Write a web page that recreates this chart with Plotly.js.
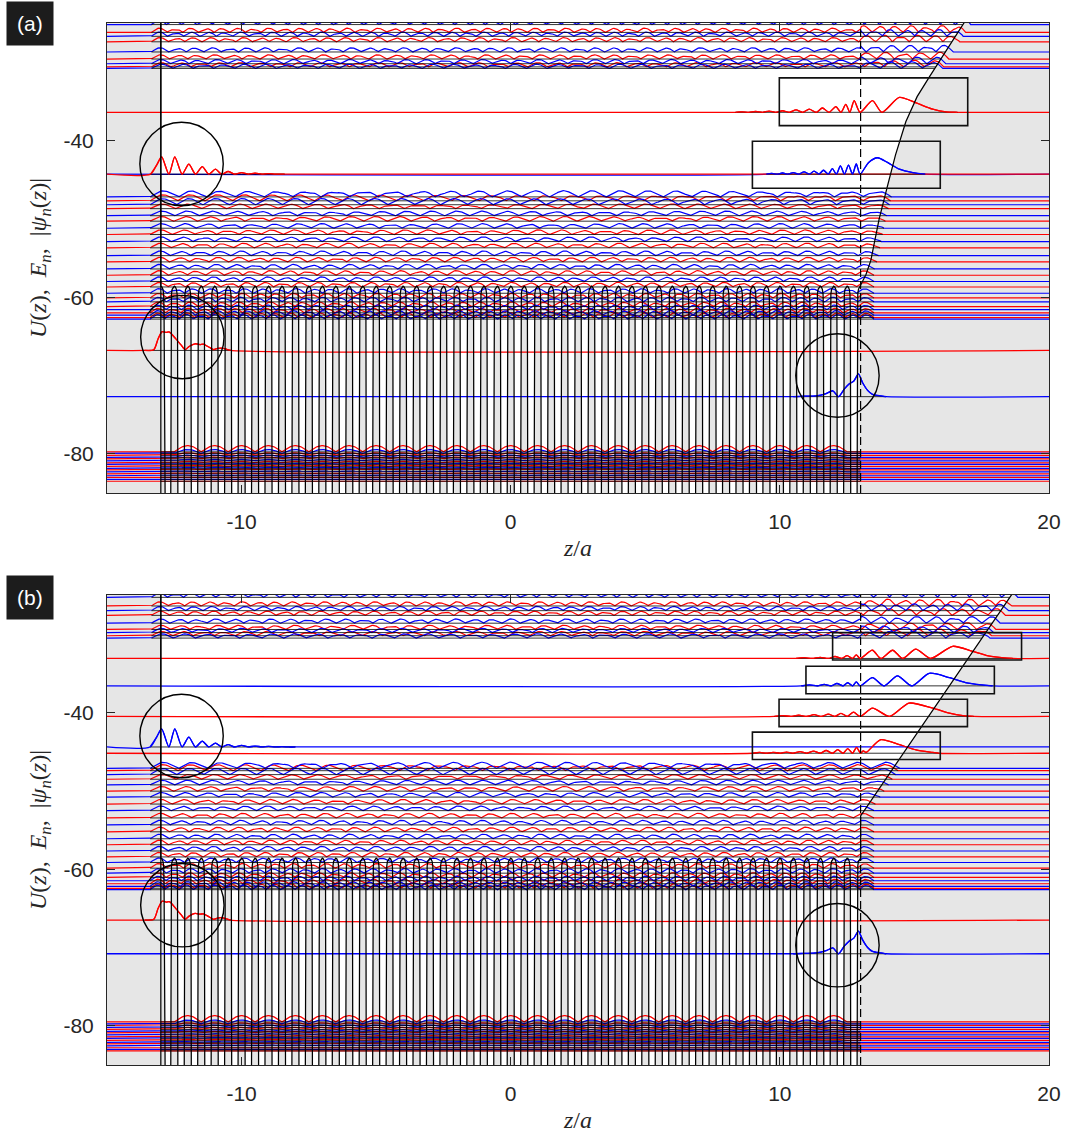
<!DOCTYPE html>
<html><head><meta charset="utf-8">
<script src="https://cdn.plot.ly/plotly-3.0.1.min.js"></script>
<style>html,body{margin:0;padding:0;background:#fff}#chart{width:1070px;height:1141px}</style>
</head><body><div id="chart"></div>
<script>
// ---------- axes / geometry of the model ----------
const Z_MIN = -15, Z_MAX = 20, E_MIN = -85, E_MAX = -25;
const xTickVals = [-10, 0, 10, 20];
const xTickText = ['-10', '0', '10', '20'];
const yTickVals = [-80, -60, -40];
const yTickText = ['-80', '-60', '-40'];
const crystalLeft = -13, crystalRight = 13, latticeStep = 0.5, vacuumU = -20;

// one half period of the lattice potential (from barrier top to well centre)
const cellHalfZ = [0, 0.04, 0.08, 0.105, 0.12, 0.135, 0.25];
const cellHalfU = [-58.6, -58.7, -59.0, -59.6, -62.0, -90.0, -140.0];

// surface potential beyond the right edge
const surfA_z = [13.0, 13.2, 13.38, 13.69, 14.0, 14.3, 14.68, 15.1, 15.55, 16.2, 16.79, 17.4, 20];
const surfA_U = [-58.6, -57.1, -55.3, -50.0, -45.8, -41.8, -37.6, -34.4, -31.9, -28.4, -25.2, -22.0, -20];
const surfB_z = [13.0, 13.0, 18.6, 19.2, 20];
const surfB_U = [-58.6, -53.2, -25.0, -22.0, -20];

// hump template used for |psi| shapes
const tplHalfWave = [0, 0.31, 0.59, 0.81, 0.95, 1, 0.95, 0.81, 0.59, 0.31, 0];

// ---------- panel (a) levels ----------
const topBandA_E = [-25.2, -26.2, -26.7, -27.4, -28.7, -29.6, -30.2, -30.6, -30.8];
const topBandA_col = ['b','r','b','r','b','r','b','r','b'];
const topBandA_m = [54, 52, 50, 48, 46, 44, 42, 40, 38];
const midBandA_E = [-47.2, -47.7, -48.2, -48.7, -49.6, -50.3, -51.2, -52.0, -52.9, -53.7, -54.7, -55.5, -56.4, -57.2, -58.0, -58.7, -59.5, -60.1, -60.6, -61.2, -61.6, -62.0, -62.3, -62.6, -62.8];
const midBandA_col = ['b','r','b','r','b','r','b','r','b','r','b','r','b','r','b','r','b','r','b','r','b','r','b','r','b'];
const midBandA_m = [26, 27, 28, 29, 30, 31, 32, 33, 34, 35, 36, 37, 38, 39, 40, 41, 42, 43, 44, 45, 46, 47, 48, 49, 50];
const lowBandA_E = [-79.75, -79.95, -80.2, -80.45, -80.65, -80.9, -81.15, -81.35, -81.6, -81.85, -82.05, -82.3, -82.55, -82.8, -83.0, -83.25, -83.5];
const lowBandA_col = ['r','b','r','b','r','b','r','b','r','b','r','b','r','b','r','b','r'];
const lowBandA_amp = [0.8, 0.5, 0.35, 0.3, 0.25, 0.2, 0.2, 0.15, 0.15, 0.12, 0.12, 0.1, 0.1, 0.1, 0.08, 0.08, 0.08];

// isolated (surface / defect) states of panel (a)
const isoA_E = [-36.4, -44.3, -44.3, -66.8, -72.7];
const isoA_col = ['r', 'b', 'r', 'r', 'b'];
const isoA1_z = [8.35, 8.6, 8.85, 9.1, 9.35, 9.6, 9.85, 10.1, 10.35, 10.6, 10.85, 11.09, 11.35, 11.58, 11.83, 12.08, 12.27, 12.45, 12.6, 12.76, 12.98, 13.44, 13.79, 14.44, 15.06, 15.68, 16.17, 16.6];
const isoA1_a = [0, 0.06, 0, 0.1, 0, 0.15, 0, 0.2, 0, 0.3, 0, 0.4, 0, 0.55, 0, 0.72, 0, 1.0, 0, 1.5, 0, 1.5, 0, 1.9, 1.2, 0.4, 0.05, 0];
const isoA2_z = [9.5, 9.7, 9.9, 10.1, 10.3, 10.5, 10.7, 10.9, 11.1, 11.27, 11.45, 11.62, 11.8, 11.95, 12.1, 12.25, 12.4, 12.55, 12.7, 12.84, 12.98, 13.3, 13.63, 14.0, 14.44, 14.94, 15.4];
const isoA2_a = [0, 0.1, 0, 0.15, 0, 0.2, 0, 0.3, 0, 0.4, 0, 0.5, 0, 0.7, 0, 1.05, 0, 1.15, 0, 1.3, 0, 1.5, 2.1, 1.5, 0.64, 0.2, 0];
const isoA3_z = [-13.38, -13.15, -12.97, -12.7, -12.48, -12.21, -11.96, -11.71, -11.46, -11.22, -10.97, -10.74, -10.5, -10.25, -10.0, -9.75, -9.5, -9.25, -9.0, -8.75, -8.4];
const isoA3_a = [0, 1.2, 2.2, 0, 2.2, 0, 1.28, 0, 0.97, 0, 0.64, 0, 0.34, 0, 0.2, 0, 0.12, 0, 0.08, 0, 0];
const isoA4_z = [-13.6, -13.26, -13.1, -12.95, -12.8, -12.68, -12.45, -12.25, -12.1, -11.95, -11.73, -11.55, -11.42, -11.2, -11.04, -10.9, -10.75, -10.55, -10.4];
const isoA4_a = [0, 0.1, 1.5, 2.4, 2.3, 2.35, 1.5, 0.7, 0.1, 0.5, 0.85, 0.75, 0.8, 0.4, 0.1, 0.25, 0.3, 0.15, 0];
const isoA5_z = [10.5, 10.9, 11.35, 11.72, 11.97, 12.18, 12.4, 12.57, 12.75, 12.92, 13.07, 13.26, 13.44, 13.75, 13.95];
const isoA5_a = [0, 0.05, 0.1, 0.4, 0.75, 0.0, 1.0, 1.6, 2.0, 2.9, 1.8, 0.8, 0.3, 0.1, 0];

// highlight frames of panel (a)
const boxA_x0 = [9.98, 8.98], boxA_x1 = [16.98, 15.96];
const boxA_y0 = [-38.1, -46.1], boxA_y1 = [-32.0, -40.1];
const circA_z = [-12.23, -12.2, 12.14], circA_E = [-43.0, -65.1, -70.0];

// ---------- panel (b) levels ----------
const topBandB_E = [-25.3, -26.4, -27.0, -27.6, -28.6, -29.4, -29.8, -30.2, -30.5];
const topBandB_col = ['b','r','b','r','b','r','b','r','b'];
const topBandB_m = [54, 52, 50, 48, 46, 44, 42, 40, 38];
const midBandB_E = [-47.13, -47.43, -47.93, -48.52, -49.24, -50.04, -50.8, -51.69, -52.53, -53.46, -54.35, -55.23, -56.12, -56.88, -57.68, -58.44, -59.15, -59.87, -60.51, -61.05, -61.48, -61.86, -62.19, -62.44, -62.62];
const midBandB_col = ['b','r','b','r','b','r','b','r','b','r','b','r','b','r','b','r','b','r','b','r','b','r','b','r','b'];
const midBandB_m = [26, 27, 28, 29, 30, 31, 32, 33, 34, 35, 36, 37, 38, 39, 40, 41, 42, 43, 44, 45, 46, 47, 48, 49, 50];
const lowBandB_E = [-79.5, -79.75, -79.95, -80.2, -80.45, -80.7, -80.9, -81.15, -81.4, -81.6, -81.85, -82.1, -82.3, -82.55, -82.8, -83.0, -83.2];
const lowBandB_col = ['r','b','r','b','r','b','r','b','r','b','r','b','r','b','r','b','r'];
const lowBandB_amp = [0.8, 0.5, 0.35, 0.3, 0.25, 0.2, 0.2, 0.15, 0.15, 0.12, 0.12, 0.1, 0.1, 0.1, 0.08, 0.08, 0.08];

const isoB_E = [-33.1, -36.6, -40.5, -45.2, -44.4, -66.5, -70.8];
const isoB_col = ['r', 'b', 'r', 'r', 'b', 'r', 'b'];
const isoB1_z = [10.6, 10.9, 11.2, 11.5, 11.8, 12.05, 12.3, 12.5, 12.7, 12.84, 12.98, 13.44, 13.75, 14.19, 14.56, 15.05, 15.6, 16.42, 17.16, 17.66, 18.16, 18.65];
const isoB1_a = [0, 0.1, 0, 0.15, 0, 0.25, 0, 0.35, 0, 0.45, 0, 1.05, 0, 1.05, 0, 1.2, 0, 1.55, 0.9, 0.4, 0.15, 0];
const isoB2_z = [10.8, 11.1, 11.4, 11.65, 11.9, 12.12, 12.35, 12.52, 12.7, 12.84, 12.98, 13.44, 13.87, 14.37, 14.9, 15.55, 16.3, 16.9, 17.5, 17.9];
const isoB2_a = [0, 0.12, 0, 0.2, 0, 0.3, 0, 0.4, 0, 0.5, 0, 1.05, 0, 1.27, 0, 1.6, 1.05, 0.42, 0.12, 0];
const isoB3_z = [9.8, 10.1, 10.4, 10.7, 11.0, 11.27, 11.55, 11.8, 12.05, 12.27, 12.5, 12.74, 12.98, 13.44, 14.08, 14.8, 15.68, 16.3, 16.8, 17.2];
const isoB3_a = [0, 0.1, 0, 0.15, 0, 0.22, 0, 0.3, 0, 0.4, 0, 0.55, 0, 1.05, 0, 1.7, 1.05, 0.42, 0.1, 0];
const isoB4_z = [9.0, 9.25, 9.5, 9.75, 10.0, 10.25, 10.5, 10.75, 11.0, 11.25, 11.5, 11.72, 11.95, 12.15, 12.35, 12.52, 12.7, 12.85, 13.0, 13.1, 13.2, 13.75, 14.44, 15.06, 15.68, 15.9];
const isoB4_a = [0, 0.1, 0, 0.12, 0, 0.15, 0, 0.2, 0, 0.28, 0, 0.35, 0, 0.45, 0, 0.6, 0, 0.76, 0, 0.3, 0.1, 1.73, 1.1, 0.42, 0.1, 0];
const isoB5_z = [-13.4, -13.15, -12.97, -12.7, -12.48, -12.21, -11.96, -11.71, -11.46, -11.22, -10.97, -10.74, -10.5, -10.25, -10.0, -9.75, -9.5, -9.25, -9.0, -8.75, -8.5, -8.25, -8.0];
const isoB5_a = [0, 1.3, 2.3, 0, 2.3, 0, 1.25, 0, 0.75, 0, 0.5, 0, 0.3, 0, 0.2, 0, 0.12, 0, 0.08, 0, 0.05, 0, 0];
const isoB6_z = [-13.6, -13.26, -13.1, -12.95, -12.8, -12.68, -12.45, -12.25, -12.1, -11.95, -11.73, -11.55, -11.42, -11.2, -11.04, -10.9, -10.75, -10.55, -10.4];
const isoB6_a = [0, 0.1, 1.5, 2.4, 2.3, 2.35, 1.5, 0.7, 0.1, 0.5, 0.85, 0.75, 0.8, 0.4, 0.1, 0.25, 0.3, 0.15, 0];
const isoB7_z = [10.5, 10.9, 11.35, 11.72, 11.97, 12.18, 12.4, 12.57, 12.75, 12.92, 13.07, 13.26, 13.44, 13.75, 13.95];
const isoB7_a = [0, 0.05, 0.1, 0.4, 0.75, 0.0, 1.0, 1.6, 2.0, 2.9, 1.8, 0.8, 0.3, 0.1, 0];

const boxB_x0 = [11.96, 10.97, 9.97, 8.98], boxB_x1 = [18.98, 17.97, 16.97, 15.96];
const boxB_y0 = [-33.3, -37.6, -41.8, -46.0], boxB_y1 = [-29.8, -34.1, -38.3, -42.5];
const circB_z = [-12.23, -12.2, 12.14], circB_E = [-43.0, -64.6, -69.7];

// ---------- styles ----------
const COL = {r: '#ff0000', b: '#0000ff'};
const GRAY = '#e6e6e6';
const AXC = '#262626';
const circleRadiusPx = 41.7;
const M = {l: 107, r: 21, t: 23, b: 76};
const W = 1070, H = 1141;
const plotW = W - M.l - M.r, plotH = H - M.t - M.b;
const panelHpx = 470;

// ---------- helpers ----------
function tpl(arr, f) {
  const p = f * (arr.length - 1);
  const i = Math.min(Math.floor(p), arr.length - 2);
  const t = p - i;
  return arr[i] * (1 - t) + arr[i + 1] * t;
}
function turnPoint(sz, su, E) {
  if (E <= su[0]) return sz[0];
  for (let j = 0; j < sz.length - 1; j++) {
    if (E >= su[j] && E <= su[j + 1]) {
      const t = (su[j + 1] === su[j]) ? 0 : (E - su[j]) / (su[j + 1] - su[j]);
      return sz[j] + t * (sz[j + 1] - sz[j]);
    }
  }
  return sz[sz.length - 1];
}
function potentialPath(sz, su) {
  const xs = [Z_MIN, crystalLeft], ys = [vacuumU, vacuumU];
  const nb = Math.round((crystalRight - crystalLeft) / latticeStep);
  for (let k = 0; k < nb; k++) {
    const b = crystalLeft + k * latticeStep;
    for (let j = 0; j < cellHalfZ.length; j++) { xs.push(b + cellHalfZ[j]); ys.push(cellHalfU[j]); }
    for (let j = cellHalfZ.length - 2; j >= 0; j--) { xs.push(b + latticeStep - cellHalfZ[j]); ys.push(cellHalfU[j]); }
  }
  for (let j = 0; j < sz.length; j++) { xs.push(sz[j]); ys.push(su[j]); }
  return {xs, ys};
}
function bandCurve(E, m, A, zL, zR, bump, core) {
  const xs = [Z_MIN, zL], ys = [E, E];
  const n = Math.ceil((zR - zL) / 0.04);
  for (let i = 0; i <= n; i++) {
    const z = zL + (zR - zL) * i / n;
    const f2 = (((z + 0.5) % 1) + 1) % 1;
    let a;
    if (core) a = A * tpl(tplHalfWave, f2);
    else {
      const u = m * (z - zL) / (zR - zL);
      const f = Math.min(1, u - Math.floor(u));
      a = A * tpl(tplHalfWave, f) * (0.6 + 0.4 * tpl(tplHalfWave, f2));
      if (z > crystalRight) a *= bump;
    }
    xs.push(z); ys.push(E + a);
  }
  xs.push(Z_MAX); ys.push(E);
  return {xs, ys};
}

function buildPanel(P, xa, ya) {
  const traces = [];
  const pot = potentialPath(P.surfZ, P.surfU);
  traces.push({x: [Z_MIN, Z_MAX], y: [-150, -150], mode: 'lines', line: {width: 0, color: GRAY}, xaxis: xa, yaxis: ya, hoverinfo: 'skip'});
  traces.push({x: pot.xs, y: pot.ys, mode: 'lines', fill: 'tonexty', fillcolor: GRAY, line: {width: 0, color: GRAY}, xaxis: xa, yaxis: ya, hoverinfo: 'skip'});

  const cur = {r: {x: [], y: []}, b: {x: [], y: []}};
  const blk = {x: [], y: []};
  function addCurve(c, col, bl0, bl1, E) {
    cur[col].x.push(...c.xs, null); cur[col].y.push(...c.ys, null);
    blk.x.push(bl0, bl1, null); blk.y.push(E, E, null);
  }
  P.top.E.forEach((E, i) => {
    const zt = turnPoint(P.surfZ, P.surfU, E);
    const c = bandCurve(E, P.top.m[i], 0.55, -13.35, zt + 0.3, 1.6, false);
    addCurve(c, P.top.col[i], -13.35, zt, E);
  });
  P.mid.E.forEach((E, i) => {
    const zt = turnPoint(P.surfZ, P.surfU, E);
    const zR = Math.max(13.5, zt + 0.25);
    const c = bandCurve(E, P.mid.m[i], i < 3 ? 0.8 : 0.6, -13.4, zR, 1.0, false);
    addCurve(c, P.mid.col[i], -13.4, zR, E);
  });
  P.low.E.forEach((E, i) => {
    const c = bandCurve(E, 0, P.low.amp[i], -12.5, 12.5, 1.0, true);
    addCurve(c, P.low.col[i], crystalLeft, crystalRight, E);
  });
  traces.push({x: cur.r.x, y: cur.r.y, mode: 'lines', line: {color: COL.r, width: 1.2}, xaxis: xa, yaxis: ya, hoverinfo: 'skip', connectgaps: false});
  traces.push({x: cur.b.x, y: cur.b.y, mode: 'lines', line: {color: COL.b, width: 1.2}, xaxis: xa, yaxis: ya, hoverinfo: 'skip', connectgaps: false});

  // isolated states
  const isoBlack = {x: [], y: []};
  P.iso.forEach(s => {
    const xs = [Z_MIN], ys = [s.E];
    s.z.forEach((z, j) => { xs.push(z); ys.push(s.E + s.a[j]); });
    xs.push(Z_MAX); ys.push(s.E);
    traces.push({x: xs, y: ys, mode: 'lines', line: {color: COL[s.col], width: 1.3, shape: 'spline', smoothing: 0.7}, xaxis: xa, yaxis: ya, hoverinfo: 'skip'});
    isoBlack.x.push(s.z[0], s.z[s.z.length - 1], null); isoBlack.y.push(s.E, s.E, null);
  });
  traces.push({x: blk.x.concat(isoBlack.x), y: blk.y.concat(isoBlack.y), mode: 'lines', line: {color: '#000', width: 0.8}, xaxis: xa, yaxis: ya, hoverinfo: 'skip', connectgaps: false});
  // redraw isolated curves above the black baselines
  P.iso.forEach(s => {
    const xs = [], ys = [];
    s.z.forEach((z, j) => { xs.push(z); ys.push(s.E + s.a[j]); });
    traces.push({x: xs, y: ys, mode: 'lines', line: {color: COL[s.col], width: 1.3, shape: 'spline', smoothing: 0.7}, xaxis: xa, yaxis: ya, hoverinfo: 'skip'});
  });
  traces.push({x: pot.xs, y: pot.ys, mode: 'lines', line: {color: '#000', width: 1.25}, xaxis: xa, yaxis: ya, hoverinfo: 'skip'});
  return traces;
}

const panelA = {
  surfZ: surfA_z, surfU: surfA_U,
  top: {E: topBandA_E, col: topBandA_col, m: topBandA_m},
  mid: {E: midBandA_E, col: midBandA_col, m: midBandA_m},
  low: {E: lowBandA_E, col: lowBandA_col, amp: lowBandA_amp},
  iso: [
    {E: isoA_E[0], col: isoA_col[0], z: isoA1_z, a: isoA1_a},
    {E: isoA_E[1], col: isoA_col[1], z: isoA2_z, a: isoA2_a},
    {E: isoA_E[2], col: isoA_col[2], z: isoA3_z, a: isoA3_a},
    {E: isoA_E[3], col: isoA_col[3], z: isoA4_z, a: isoA4_a},
    {E: isoA_E[4], col: isoA_col[4], z: isoA5_z, a: isoA5_a}
  ]
};
const panelB = {
  surfZ: surfB_z, surfU: surfB_U,
  top: {E: topBandB_E, col: topBandB_col, m: topBandB_m},
  mid: {E: midBandB_E, col: midBandB_col, m: midBandB_m},
  low: {E: lowBandB_E, col: lowBandB_col, amp: lowBandB_amp},
  iso: [
    {E: isoB_E[0], col: isoB_col[0], z: isoB1_z, a: isoB1_a},
    {E: isoB_E[1], col: isoB_col[1], z: isoB2_z, a: isoB2_a},
    {E: isoB_E[2], col: isoB_col[2], z: isoB3_z, a: isoB3_a},
    {E: isoB_E[3], col: isoB_col[3], z: isoB4_z, a: isoB4_a},
    {E: isoB_E[4], col: isoB_col[4], z: isoB5_z, a: isoB5_a},
    {E: isoB_E[5], col: isoB_col[5], z: isoB6_z, a: isoB6_a},
    {E: isoB_E[6], col: isoB_col[6], z: isoB7_z, a: isoB7_a}
  ]
};

const traces = buildPanel(panelA, 'x', 'y').concat(buildPanel(panelB, 'x2', 'y2'));

// ---------- shapes ----------
const pxPerZ = plotW / (Z_MAX - Z_MIN);
const pxPerE = panelHpx / (E_MAX - E_MIN);
const rz = circleRadiusPx / pxPerZ, rE = circleRadiusPx / pxPerE;
const shapes = [];
function addFrames(xr, yr, bx0, bx1, by0, by1, cz, cE) {
  shapes.push({type: 'line', xref: xr, yref: yr + ' domain', x0: crystalLeft, x1: crystalLeft, y0: 0, y1: 1, line: {color: '#000', width: 1.2}});
  shapes.push({type: 'line', xref: xr, yref: yr + ' domain', x0: crystalRight, x1: crystalRight, y0: 0, y1: 1, line: {color: '#000', width: 1.2, dash: '8px,4px'}});
  bx0.forEach((v, i) => shapes.push({type: 'rect', xref: xr, yref: yr, x0: v, x1: bx1[i], y0: by0[i], y1: by1[i], line: {color: '#111', width: 1.6}}));
  cz.forEach((v, i) => shapes.push({type: 'circle', xref: xr, yref: yr, x0: v - rz, x1: v + rz, y0: cE[i] - rE, y1: cE[i] + rE, line: {color: '#000', width: 1.4}}));
}
addFrames('x', 'y', boxA_x0, boxA_x1, boxA_y0, boxA_y1, circA_z, circA_E);
addFrames('x2', 'y2', boxB_x0, boxB_x1, boxB_y0, boxB_y1, circB_z, circB_E);

// ---------- layout ----------
const tickFont = {family: 'Liberation Sans, Arial, sans-serif', size: 21, color: AXC};
const titleFont = {family: 'Liberation Serif, Times New Roman, serif', size: 24, color: AXC};
const nb = '\u00a0';
const yTitle = '<i>U</i>(<i>z</i>),' + nb + nb + '<i>E<sub>n</sub></i>,' + nb + nb + '|<i>ψ<sub>n</sub></i>(<i>z</i>)|';
function xAxis(anchor) {
  return {anchor: anchor, domain: [0, 1], range: [Z_MIN, Z_MAX], tickvals: xTickVals, ticktext: xTickText,
    ticks: 'inside', ticklen: 8, tickcolor: AXC, showline: true, linecolor: AXC, linewidth: 1, mirror: 'ticks',
    showgrid: false, zeroline: false, tickfont: tickFont, ticklabelstandoff: 10, automargin: false,
    title: {text: '<i>z</i>/<i>a</i>', font: titleFont, standoff: 6}};
}
function yAxis(anchor, dom) {
  return {anchor: anchor, domain: dom, range: [E_MIN, E_MAX], tickvals: yTickVals, ticktext: yTickText,
    ticks: 'inside', ticklen: 8, tickcolor: AXC, showline: true, linecolor: AXC, linewidth: 1, mirror: 'ticks',
    showgrid: false, zeroline: false, tickfont: tickFont, ticklabelstandoff: 8, automargin: false,
    title: {text: yTitle, font: titleFont, standoff: 10}};
}
const layout = {
  width: W, height: H, margin: M, showlegend: false,
  paper_bgcolor: '#fff', plot_bgcolor: '#fff',
  xaxis: xAxis('y'), yaxis: yAxis('x', [1 - panelHpx / plotH, 1]),
  xaxis2: xAxis('y2'), yaxis2: yAxis('x2', [0, panelHpx / plotH]),
  shapes: shapes,
  annotations: [
    {text: '(a)', xref: 'paper', yref: 'paper', x: (29.5 - M.l) / plotW, y: (H - M.b - 23) / plotH, xanchor: 'center', yanchor: 'middle', showarrow: false, bgcolor: '#1c1c1c', borderpad: 10, font: {family: 'Liberation Sans, Arial, sans-serif', size: 21, color: '#fff'}},
    {text: '(b)', xref: 'paper', yref: 'paper', x: (29.5 - M.l) / plotW, y: (H - M.b - 597) / plotH, xanchor: 'center', yanchor: 'middle', showarrow: false, bgcolor: '#1c1c1c', borderpad: 10, font: {family: 'Liberation Sans, Arial, sans-serif', size: 21, color: '#fff'}}
  ]
};
Plotly.newPlot('chart', traces, layout, {displayModeBar: false, staticPlot: true});
</script></body></html>
